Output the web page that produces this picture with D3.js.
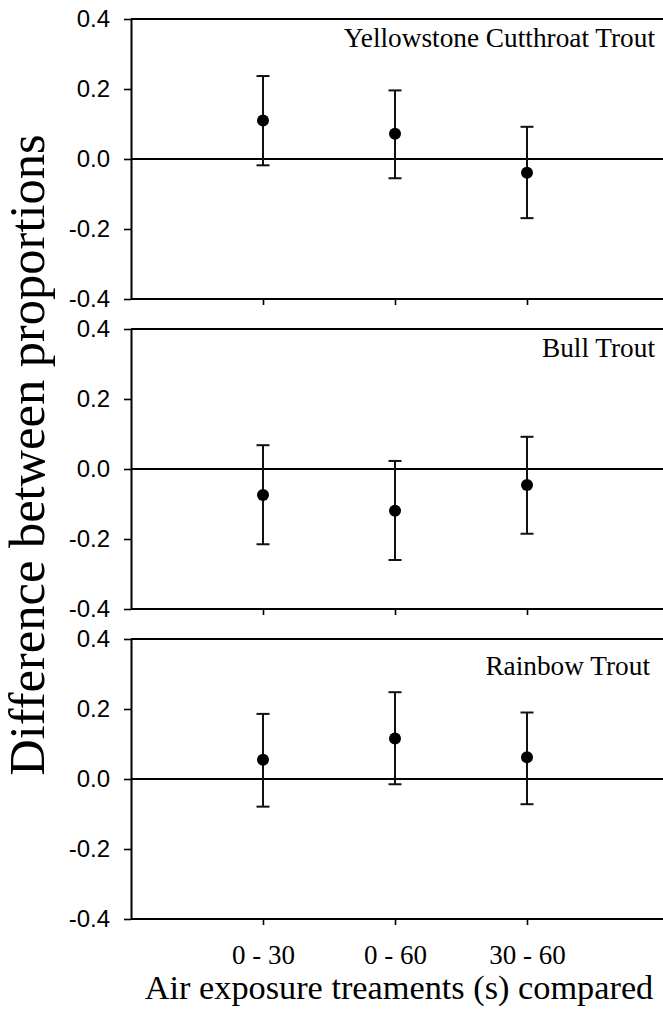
<!DOCTYPE html>
<html>
<head>
<meta charset="utf-8">
<script src="https://cdn.jsdelivr.net/npm/d3@7"></script>
<style>
  body { margin: 0; background: #fff; }
  svg { display: block; }
</style>
</head>
<body>
<div id="chart"></div>
<script>
// comparisons on the x axis
var categories = ['0 - 30', '0 - 60', '30 - 60'];
var species = ['Yellowstone Cutthroat Trout', 'Bull Trout', 'Rainbow Trout'];

// difference between proportions, with lower / upper CI
var diffYCT = [0.110, 0.072, -0.039];
var lowYCT = [-0.018, -0.055, -0.169];
var highYCT = [0.237, 0.196, 0.092];

var diffBull = [-0.074, -0.119, -0.046];
var lowBull = [-0.215, -0.260, -0.185];
var highBull = [0.068, 0.023, 0.092];

var diffRainbow = [0.055, 0.116, 0.062];
var lowRainbow = [-0.079, -0.015, -0.072];
var highRainbow = [0.186, 0.248, 0.190];

var yTicks = [-0.4, -0.2, 0.0, 0.2, 0.4];

var panels = [
  {name: species[0], diff: diffYCT, low: lowYCT, high: highYCT},
  {name: species[1], diff: diffBull, low: lowBull, high: highBull},
  {name: species[2], diff: diffRainbow, low: lowRainbow, high: highRainbow}
];

var W = 663, H = 1015;
var left = 131, right = 659;
var panelTop = 19, panelH = 280, panelGap = 30;
var titleDx = [655, 655, 650];
var titleDy = [28, 28, 36];

var fmt = d3.formatLocale({decimal: '.', thousands: ',', grouping: [3], currency: ['$', ''], minus: '-'}).format('.1f');

var svg = d3.select('#chart').append('svg')
  .attr('width', W)
  .attr('height', H);

var x = d3.scaleLinear().domain([0, categories.length + 1]).range([left, right]);

panels.forEach(function(p, i) {
  var top = panelTop + i * (panelH + panelGap);
  var y = d3.scaleLinear().domain([-0.4, 0.4]).range([top + panelH, top]);
  var g = svg.append('g');

  // left axis
  var ya = g.append('g')
    .attr('transform', 'translate(' + left + ',0)')
    .call(d3.axisLeft(y).tickValues(yTicks).tickFormat(fmt).tickSize(7).tickPadding(14).tickSizeOuter(0));
  ya.select('.domain').attr('stroke-width', 2);
  ya.selectAll('.tick line').attr('stroke-width', 1.6);
  ya.selectAll('.tick text')
    .attr('font-family', 'Liberation Sans, Arial, sans-serif')
    .attr('font-size', 24)
    .attr('fill', '#000');

  // bottom axis with category ticks
  var xa = g.append('g')
    .attr('transform', 'translate(0,' + y(-0.4) + ')')
    .call(d3.axisBottom(x).tickValues(d3.range(1, categories.length + 1))
      .tickFormat(function(d) { return i === panels.length - 1 ? categories[d - 1] : ''; })
      .tickSize(6).tickPadding(20).tickSizeOuter(0));
  xa.select('.domain').remove();
  xa.selectAll('.tick line').attr('stroke-width', 1.6);
  xa.selectAll('.tick text')
    .attr('font-family', 'Liberation Serif, Times New Roman, serif')
    .attr('font-size', 27)
    .attr('fill', '#000');

  // frame lines (top, bottom) and zero line
  [0.4, -0.4, 0].forEach(function(v) {
    g.append('line')
      .attr('x1', x(0)).attr('x2', W)
      .attr('y1', y(v)).attr('y2', y(v))
      .attr('stroke', '#000')
      .attr('stroke-width', 2);
  });

  // error bars
  var bars = g.selectAll('.bar').data(p.diff).enter().append('g').attr('class', 'bar');
  bars.append('line')
    .attr('x1', function(d, k) { return x(k + 1); })
    .attr('x2', function(d, k) { return x(k + 1); })
    .attr('y1', function(d, k) { return y(p.low[k]); })
    .attr('y2', function(d, k) { return y(p.high[k]); })
    .attr('stroke', '#111').attr('stroke-width', 2);
  bars.append('line')
    .attr('x1', function(d, k) { return x(k + 1) - 6.5; })
    .attr('x2', function(d, k) { return x(k + 1) + 6.5; })
    .attr('y1', function(d, k) { return y(p.low[k]); })
    .attr('y2', function(d, k) { return y(p.low[k]); })
    .attr('stroke', '#111').attr('stroke-width', 2);
  bars.append('line')
    .attr('x1', function(d, k) { return x(k + 1) - 6.5; })
    .attr('x2', function(d, k) { return x(k + 1) + 6.5; })
    .attr('y1', function(d, k) { return y(p.high[k]); })
    .attr('y2', function(d, k) { return y(p.high[k]); })
    .attr('stroke', '#111').attr('stroke-width', 2);
  bars.append('circle')
    .attr('cx', function(d, k) { return x(k + 1); })
    .attr('cy', function(d) { return y(d); })
    .attr('r', 6)
    .attr('fill', '#000');

  // species label
  g.append('text')
    .attr('x', titleDx[i])
    .attr('y', top + titleDy[i])
    .attr('text-anchor', 'end')
    .attr('font-family', 'Liberation Serif, Times New Roman, serif')
    .attr('font-size', 27.3)
    .text(p.name);
});

// axis titles
svg.append('text')
  .attr('transform', 'translate(44,455) rotate(-90)')
  .attr('text-anchor', 'middle')
  .attr('font-family', 'Liberation Serif, Times New Roman, serif')
  .attr('font-size', 50.5)
  .text('Difference between proportions');

svg.append('text')
  .attr('x', (left + 663) / 2 + 2)
  .attr('y', 999)
  .attr('text-anchor', 'middle')
  .attr('font-family', 'Liberation Serif, Times New Roman, serif')
  .attr('font-size', 34.3)
  .text('Air exposure treaments (s) compared');
</script>
</body>
</html>
